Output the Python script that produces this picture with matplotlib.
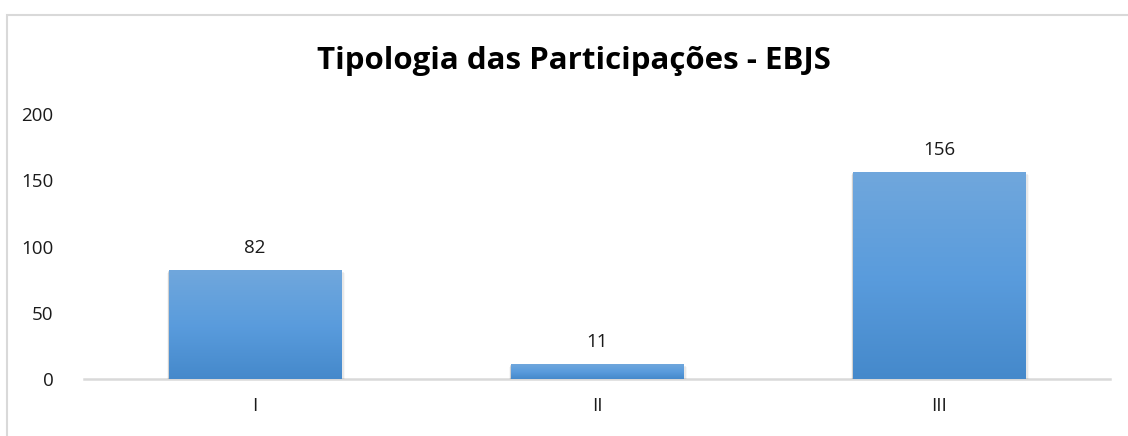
import numpy as np
import matplotlib.pyplot as plt
from matplotlib.patches import Rectangle
from matplotlib.colors import LinearSegmentedColormap

# --- Dados ---
categorias = ['I', 'II', 'III']
valores = [82, 11, 156]
ticks_y = [0, 50, 100, 150, 200]
titulo = 'Tipologia das Participações - EBJS'

plt.rcParams['font.family'] = ['Open Sans', 'DejaVu Sans']

fig = plt.figure(figsize=(11.28, 4.36), dpi=100)

# moldura cinza clara do gráfico (como no Excel)
fig.add_artist(Rectangle((7 / 1128, -0.1), 1.2, (436 - 15) / 436 + 0.1,
                         transform=fig.transFigure, fill=False,
                         edgecolor='#d9d9d9', linewidth=1.5))

ax = fig.add_axes([84 / 1128, 57 / 436, 1026 / 1128, 265 / 436])
x = np.arange(len(categorias))
largura = 0.503

cmap = LinearSegmentedColormap.from_list('azul', ['#4589cb', '#5a9cdd', '#70a7dc'])
grad = np.linspace(0, 1, 256).reshape(-1, 1)

bars = ax.bar(x, valores, width=largura, color='none', edgecolor='none', zorder=2)
for b in bars:
    x0, y0 = b.get_x(), b.get_y()
    w, h = b.get_width(), b.get_height()
    # sombra discreta
    for i, a in enumerate([0.10, 0.06, 0.03]):
        d = 0.004 * (i + 1)
        ax.add_patch(Rectangle((x0 - d * 0.5, y0 - 0.8 * (i + 1)), w + d * 1.5, h + 0.3,
                               facecolor='#000000', alpha=a, edgecolor='none', zorder=1))
    ax.imshow(grad, extent=(x0, x0 + w, y0, y0 + h), origin='lower', cmap=cmap,
              aspect='auto', zorder=3, interpolation='bilinear')

for xi, v in zip(x, valores):
    ax.text(xi, v + 10, str(v), ha='center', va='bottom', fontsize=13.5, color='#1a1a1a')

ax.set_xlim(-0.5, len(categorias) - 0.5)
ax.set_ylim(0, 200)
ax.set_yticks(ticks_y)
ax.set_xticks(x)
ax.set_xticklabels(categorias)
ax.tick_params(axis='both', length=0, labelsize=13.5, colors='#1a1a1a')
ax.tick_params(axis='y', pad=22)
ax.tick_params(axis='x', pad=13)
for s in ['top', 'right', 'left']:
    ax.spines[s].set_visible(False)
ax.spines['bottom'].set_color('#d9d9d9')
ax.spines['bottom'].set_linewidth(1.8)
ax.spines['bottom'].set_zorder(0)

fig.text(574 / 1128, 1 - 61 / 436, titulo, ha='center', va='center',
         fontsize=22.5, fontweight='bold', color='#000000')

plt.savefig('out.png', dpi=100)
plt.close()
